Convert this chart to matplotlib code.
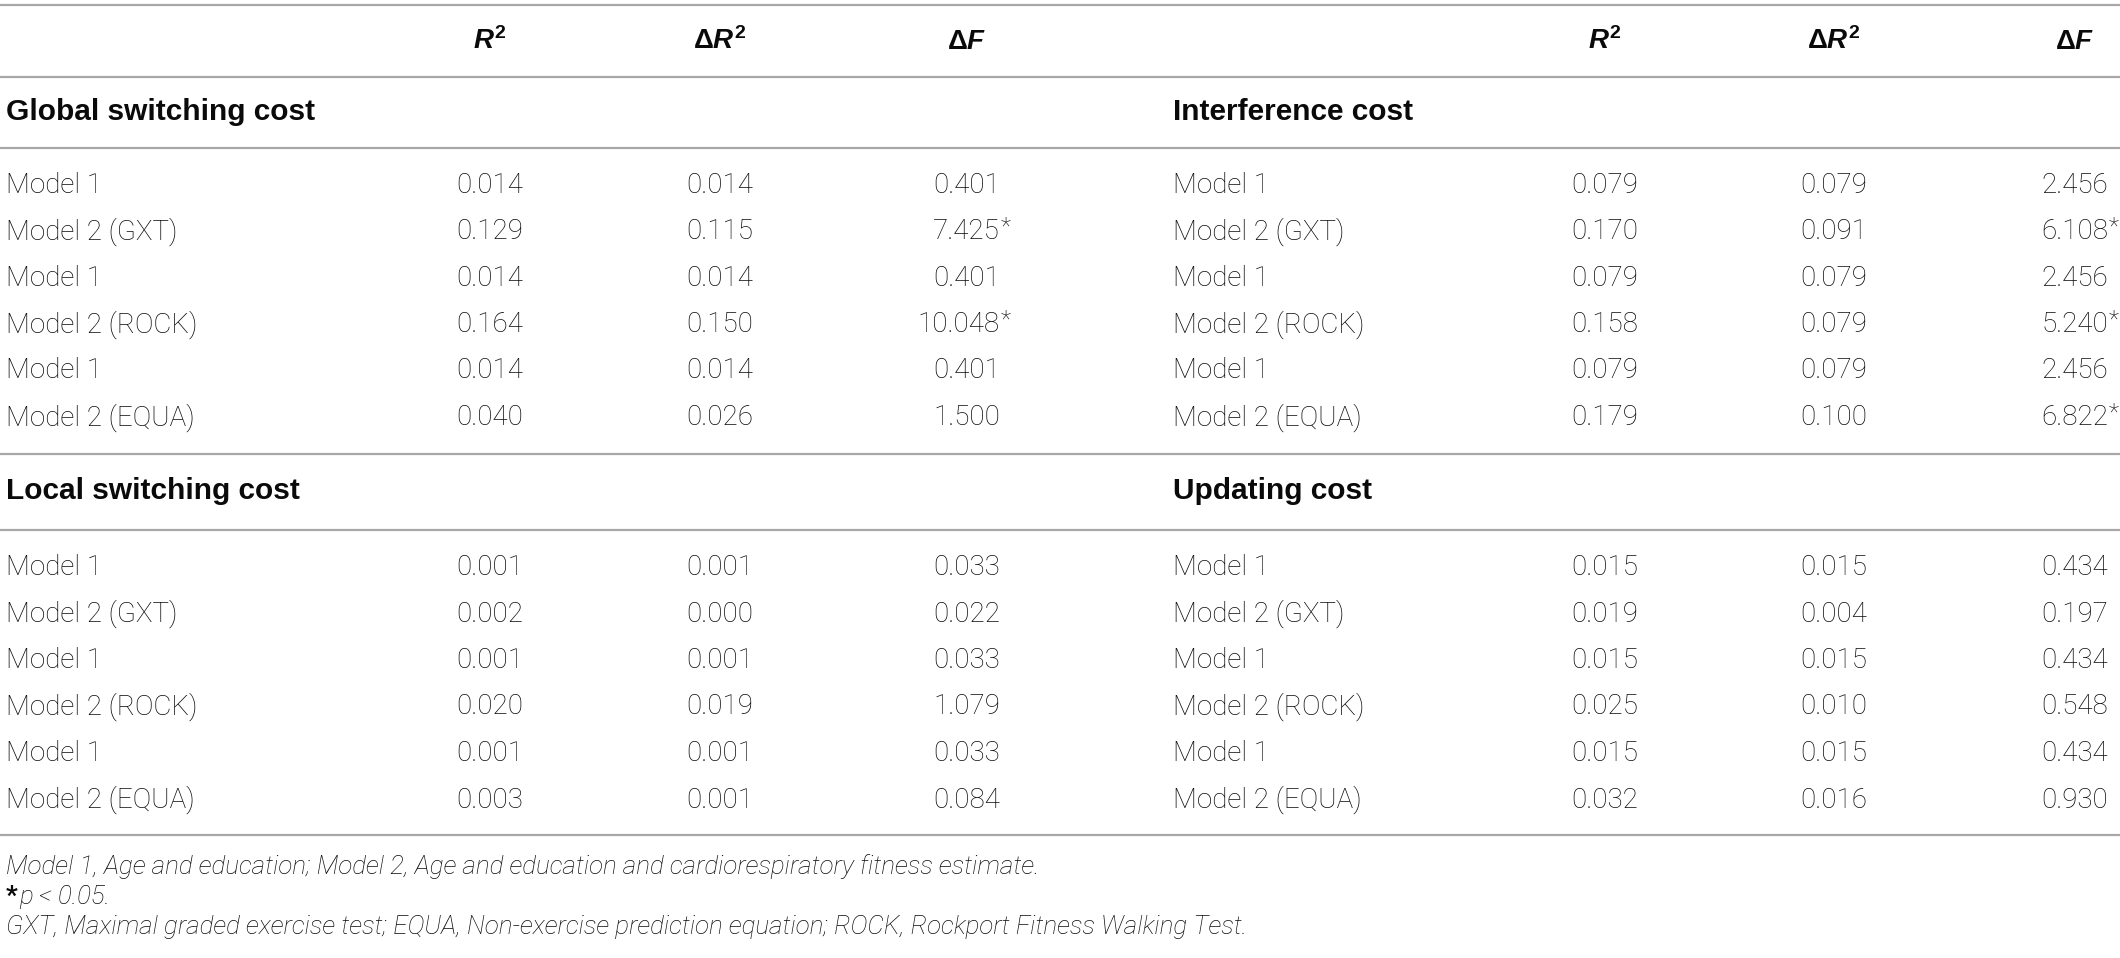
import matplotlib
matplotlib.use("Agg")
import matplotlib.pyplot as plt

# ---- data ----
row_labels = ["Model 1", "Model 2 (GXT)", "Model 1", "Model 2 (ROCK)", "Model 1", "Model 2 (EQUA)"]

global_r2 = [0.014, 0.129, 0.014, 0.164, 0.014, 0.040]
global_dr2 = [0.014, 0.115, 0.014, 0.150, 0.014, 0.026]
global_df = [0.401, 7.425, 0.401, 10.048, 0.401, 1.500]
global_sig = [False, True, False, True, False, False]

interf_r2 = [0.079, 0.170, 0.079, 0.158, 0.079, 0.179]
interf_dr2 = [0.079, 0.091, 0.079, 0.079, 0.079, 0.100]
interf_df = [2.456, 6.108, 2.456, 5.240, 2.456, 6.822]
interf_sig = [False, True, False, True, False, True]

local_r2 = [0.001, 0.002, 0.001, 0.020, 0.001, 0.003]
local_dr2 = [0.001, 0.000, 0.001, 0.019, 0.001, 0.001]
local_df = [0.033, 0.022, 0.033, 1.079, 0.033, 0.084]
local_sig = [False] * 6

update_r2 = [0.015, 0.019, 0.015, 0.025, 0.015, 0.032]
update_dr2 = [0.015, 0.004, 0.015, 0.010, 0.015, 0.016]
update_df = [0.434, 0.197, 0.434, 0.548, 0.434, 0.930]
update_sig = [False] * 6

headers = [r"$R^{2}$", r"$\Delta R^{2}$", r"$\Delta F$"]
footnote1 = "Model 1, Age and education; Model 2, Age and education and cardiorespiratory fitness estimate."
footnote2 = "p < 0.05."
footnote3 = "GXT, Maximal graded exercise test; EQUA, Non-exercise prediction equation; ROCK, Rockport Fitness Walking Test."

# ---- style ----
FONT = "Roboto"
HEAD = "Liberation Sans"
plt.rcParams["font.family"] = [FONT, "DejaVu Sans"]
plt.rcParams["mathtext.fontset"] = "custom"
plt.rcParams["mathtext.it"] = HEAD + ":italic:bold"
plt.rcParams["mathtext.rm"] = HEAD + ":bold"
plt.rcParams["mathtext.bf"] = HEAD + ":bold"

TXT = "#0a0a0a"
LINE = "#a8a8a8"
FS = 20
FS_HEAD = 21.5
FS_NOTE = 18.7
WEIGHT = "light"

W, H = 2120, 958
fig = plt.figure(figsize=(W / 100, H / 100), dpi=100)
ax = fig.add_axes([0, 0, 1, 1])
ax.set_xlim(0, W)
ax.set_ylim(H, 0)
ax.axis("off")

# column positions (left block, right block)
blocks = [
    dict(label=6, r2=490, dr2=720, df=1000),
    dict(label=1173, r2=1605, dr2=1834, df=2108),
]

row_h = 46.5


def hline(y):
    ax.plot([0, W], [y, y], color=LINE, lw=1.6, solid_capstyle="butt")


def body(x, y, s, ha="left"):
    ax.text(x, y, s, ha=ha, va="center", fontsize=FS, color=TXT, fontweight=WEIGHT)


def block_rows(b, y0, r2, dr2, df, sig):
    for i, lab in enumerate(row_labels):
        y = y0 + i * row_h
        body(b["label"], y, lab)
        body(b["r2"], y, f"{r2[i]:.3f}", "center")
        body(b["dr2"], y, f"{dr2[i]:.3f}", "center")
        body(b["df"], y, f"{df[i]:.3f}", "right")
        if sig[i]:
            ax.text(b["df"] + 1, y - 4, "*", ha="left", va="center", fontsize=FS - 3,
                    color=TXT, fontweight=WEIGHT)


def group(y, left, right):
    ax.text(blocks[0]["label"], y, left, ha="left", va="center", fontsize=FS_HEAD,
            fontweight="bold", color=TXT, family=HEAD)
    ax.text(blocks[1]["label"], y, right, ha="left", va="center", fontsize=FS_HEAD,
            fontweight="bold", color=TXT, family=HEAD)


hline(5)
for b in blocks:
    ax.text(b["r2"], 41, headers[0], ha="center", va="center", fontsize=FS, color=TXT)
    ax.text(b["dr2"], 41, headers[1], ha="center", va="center", fontsize=FS, color=TXT)
    ax.text(b["df"] - 14, 41, headers[2], ha="right", va="center", fontsize=FS, color=TXT)
hline(77)

# first section
group(112, "Global switching cost", "Interference cost")
hline(148)
block_rows(blocks[0], 185, global_r2, global_dr2, global_df, global_sig)
block_rows(blocks[1], 185, interf_r2, interf_dr2, interf_df, interf_sig)
hline(454)

# second section
group(491, "Local switching cost", "Updating cost")
hline(530)
block_rows(blocks[0], 567.5, local_r2, local_dr2, local_df, local_sig)
block_rows(blocks[1], 567.5, update_r2, update_dr2, update_df, update_sig)
hline(835)

# footnotes
ax.text(6, 867, footnote1, ha="left", va="center", fontsize=FS_NOTE, style="italic",
        fontweight=WEIGHT, color=TXT)
star = ax.text(6, 897, "*", ha="left", va="center", fontsize=FS_NOTE, fontweight="bold", color=TXT)
fig.canvas.draw()
bb = star.get_window_extent()
ax.text(6 + bb.width + 1, 897, footnote2, ha="left", va="center", fontsize=FS_NOTE, style="italic",
        fontweight=WEIGHT, color=TXT)
ax.text(6, 927, footnote3, ha="left", va="center", fontsize=FS_NOTE, style="italic",
        fontweight=WEIGHT, color=TXT)

fig.savefig("out.png", dpi=100, facecolor="white")
